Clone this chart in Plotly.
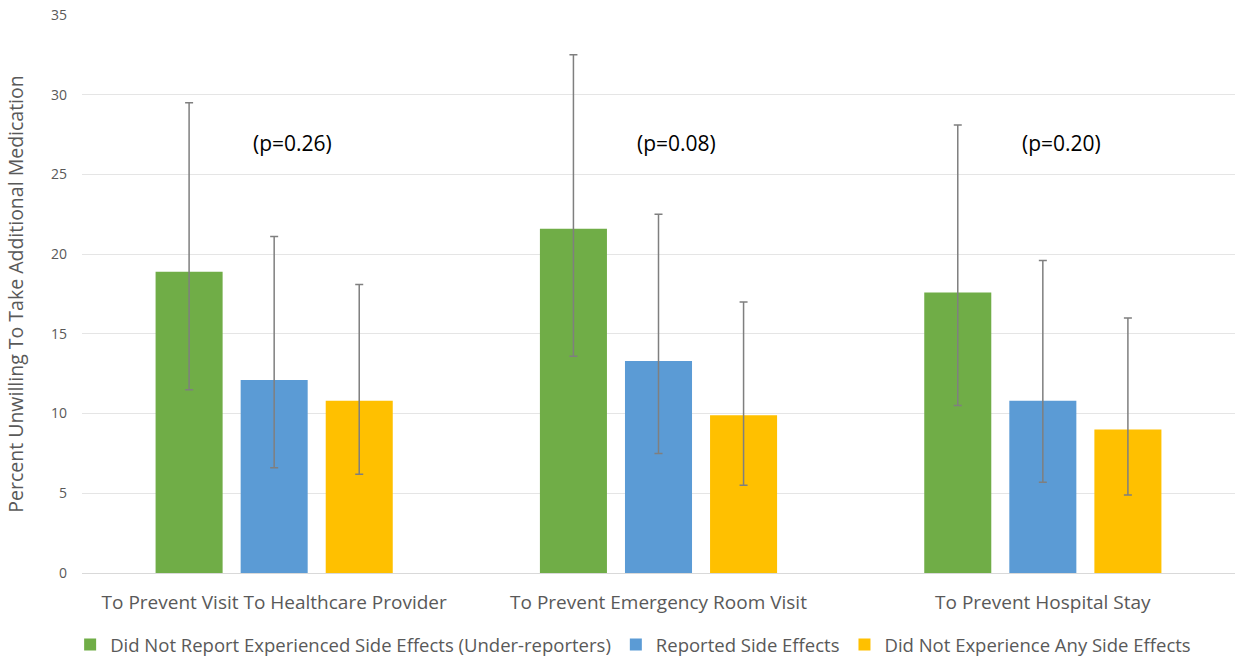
import plotly.graph_objects as go

categories = ["To Prevent Visit To Healthcare Provider",
              "To Prevent Emergency Room Visit",
              "To Prevent Hospital Stay"]

series_names = ["Did Not Report Experienced Side Effects (Under-reporters)",
                "Reported Side Effects",
                "Did Not Experience Any Side Effects"]

under_reporters = [18.9, 21.6, 17.6]
under_upper = [29.5, 32.5, 28.1]
under_lower = [11.5, 13.6, 10.5]

reported = [12.1, 13.3, 10.8]
reported_upper = [21.1, 22.5, 19.6]
reported_lower = [6.6, 7.5, 5.7]

no_effects = [10.8, 9.9, 9.0]
no_effects_upper = [18.1, 17.0, 16.0]
no_effects_lower = [6.2, 5.5, 4.9]

p_values = ["(p=0.26)", "(p=0.08)", "(p=0.20)"]

colors = ["#70AD47", "#5B9BD5", "#FFC000"]
FONT = "Open Sans"
GRAY = "#595959"

fig = go.Figure()
for name, vals, up, lo, col in zip(
        series_names,
        [under_reporters, reported, no_effects],
        [under_upper, reported_upper, no_effects_upper],
        [under_lower, reported_lower, no_effects_lower],
        colors):
    fig.add_trace(go.Bar(
        x=categories, y=vals, name=name,
        marker=dict(color=col, line=dict(width=0)),
        error_y=dict(type="data", symmetric=False,
                     array=[u - v for u, v in zip(up, vals)],
                     arrayminus=[v - l for v, l in zip(vals, lo)],
                     color="#7F7F7F", thickness=1.5, width=4),
    ))

for i, txt in enumerate(p_values):
    fig.add_annotation(x=i + 0.048, y=27.0, xref="x", yref="y", text=txt,
                       showarrow=False,
                       font=dict(family=FONT, size=21, color="#000000"))

fig.update_layout(
    width=1237, height=660,
    margin=dict(l=82, r=2, t=15, b=87, autoexpand=False),
    paper_bgcolor="white", plot_bgcolor="white",
    barmode="group", bargap=0.336, bargroupgap=0.212,
    font=dict(family=FONT, color=GRAY),
    legend=dict(orientation="h", x=0.478, xanchor="center", y=-0.129,
                yanchor="middle", font=dict(family=FONT, size=18.5, color=GRAY),
                itemwidth=30, traceorder="normal"),
    showlegend=True,
)
fig.update_xaxes(showgrid=False, showline=True, linecolor="#D9D9D9",
                 linewidth=1, tickfont=dict(family=FONT, size=19, color=GRAY),
                 ticks="", automargin=False, ticklabelstandoff=12)
fig.update_yaxes(range=[0, 35], dtick=5, showgrid=True, gridcolor="#E5E5E5",
                 gridwidth=1, zeroline=False, showline=False, automargin=False,
                 tickfont=dict(family=FONT, size=14, color=GRAY),
                 ticklabelstandoff=14,
                 title=dict(text="Percent Unwilling To Take Additional Medication",
                            font=dict(family=FONT, size=19.5, color=GRAY),
                            standoff=22))

fig.write_html("out.html", config={"displayModeBar": False},
               post_script="document.body.style.margin='0';document.body.style.padding='0';")
